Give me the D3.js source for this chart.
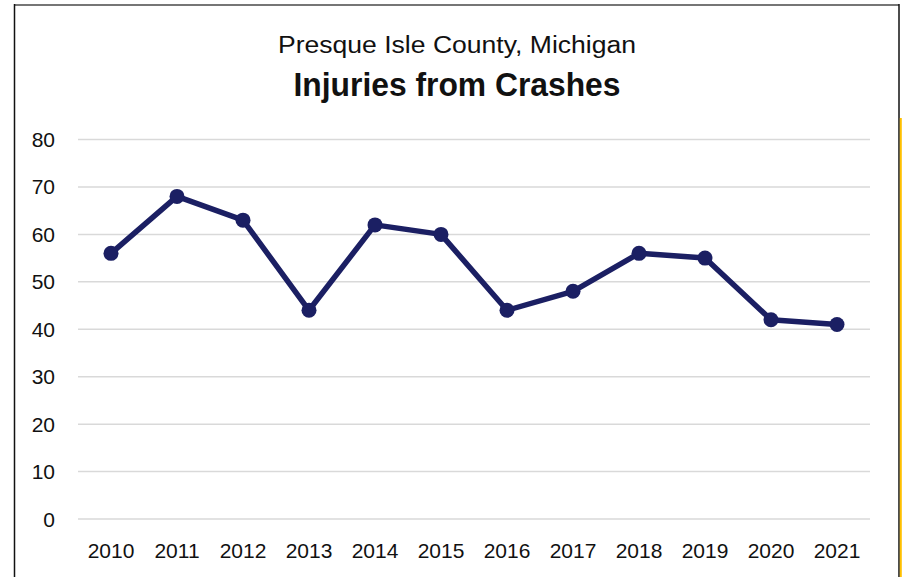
<!DOCTYPE html>
<html>
<head>
<meta charset="utf-8">
<script src="https://cdn.jsdelivr.net/npm/d3@7"></script>
<style>
  body { margin: 0; background: #fff; }
  svg { display: block; font-family: "Liberation Sans", Arial, sans-serif; }
</style>
</head>
<body>
<svg id="svg" width="902" height="577"></svg>
<script>
var years = ["2010","2011","2012","2013","2014","2015","2016","2017","2018","2019","2020","2021"];
var injuries = [56, 68, 63, 44, 62, 60, 44, 48, 56, 55, 42, 41];
var yTicks = [0, 10, 20, 30, 40, 50, 60, 70, 80];

var svg = d3.select("#svg");

// frame lines
svg.append("line")
  .attr("x1", 14).attr("y1", 5).attr("x2", 899).attr("y2", 5)
  .attr("stroke", "#767676").attr("stroke-width", 2);
svg.append("line")
  .attr("x1", 14.5).attr("y1", 4).attr("x2", 14.5).attr("y2", 577)
  .attr("stroke", "#111").attr("stroke-width", 1.5);
svg.append("line")
  .attr("x1", 899).attr("y1", 4).attr("x2", 899).attr("y2", 577)
  .attr("stroke", "#111").attr("stroke-width", 1.5);
svg.append("line")
  .attr("x1", 900.8).attr("y1", 118).attr("x2", 900.8).attr("y2", 577)
  .attr("stroke", "#ffc000").attr("stroke-width", 2);

// titles
svg.append("text")
  .attr("x", 457).attr("y", 53)
  .attr("text-anchor", "middle")
  .attr("font-size", 23)
  .attr("fill", "#111")
  .attr("textLength", 358).attr("lengthAdjust", "spacingAndGlyphs")
  .text("Presque Isle County, Michigan");
svg.append("text")
  .attr("x", 457).attr("y", 96)
  .attr("text-anchor", "middle")
  .attr("font-size", 33)
  .attr("font-weight", "bold")
  .attr("fill", "#111")
  .attr("textLength", 327).attr("lengthAdjust", "spacingAndGlyphs")
  .text("Injuries from Crashes");

var x = d3.scaleBand().domain(years).range([78, 870]);
var y = d3.scaleLinear().domain([0, 80]).range([519, 139.5]);

// gridlines
svg.selectAll("line.grid").data(yTicks).enter()
  .append("line")
  .attr("class", "grid")
  .attr("x1", 78).attr("x2", 870)
  .attr("y1", function(d) { return y(d); })
  .attr("y2", function(d) { return y(d); })
  .attr("stroke", "#d9d9d9").attr("stroke-width", 1.5);

// y labels
svg.selectAll("text.ylab").data(yTicks).enter()
  .append("text")
  .attr("class", "ylab")
  .attr("x", 55)
  .attr("y", function(d) { return y(d) + 7.5; })
  .attr("text-anchor", "end")
  .attr("font-size", 21)
  .attr("fill", "#111")
  .text(function(d) { return d; });

// x labels
svg.selectAll("text.xlab").data(years).enter()
  .append("text")
  .attr("class", "xlab")
  .attr("x", function(d) { return x(d) + x.bandwidth() / 2; })
  .attr("y", 558)
  .attr("text-anchor", "middle")
  .attr("font-size", 21)
  .attr("fill", "#111")
  .text(function(d) { return d; });

// line
var line = d3.line()
  .x(function(d, i) { return x(years[i]) + x.bandwidth() / 2; })
  .y(function(d) { return y(d); });

svg.append("path")
  .datum(injuries)
  .attr("d", line)
  .attr("fill", "none")
  .attr("stroke", "#1b1f63")
  .attr("stroke-width", 5.5)
  .attr("stroke-linejoin", "round");

svg.selectAll("circle").data(injuries).enter()
  .append("circle")
  .attr("cx", function(d, i) { return x(years[i]) + x.bandwidth() / 2; })
  .attr("cy", function(d) { return y(d); })
  .attr("r", 7.5)
  .attr("fill", "#1b1f63");
</script>
</body>
</html>
